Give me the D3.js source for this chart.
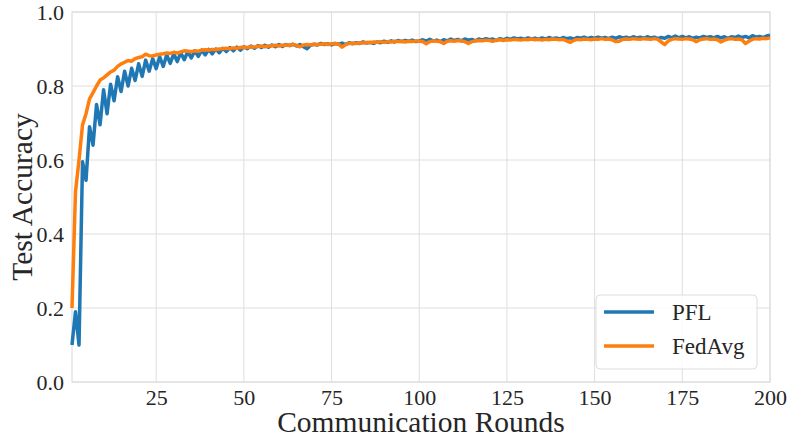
<!DOCTYPE html>
<html>
<head>
<meta charset="utf-8">
<script src="https://cdn.jsdelivr.net/npm/d3@7"></script>
<style>
  body { margin: 0; background: #fff; }
  text { font-family: "Liberation Serif", "Times New Roman", serif; fill: #262626; }
</style>
</head>
<body>
<div id="chart"></div>
<script>
// test accuracy per communication round (rounds 1..200)
const pfl = [
  0.10, 0.19, 0.10, 0.595, 0.545, 0.69, 0.64, 0.75, 0.695, 0.79,
  0.725, 0.805, 0.76, 0.825, 0.785, 0.84, 0.80, 0.848, 0.815, 0.86,
  0.826, 0.87, 0.84, 0.874, 0.847, 0.879, 0.853, 0.884, 0.861, 0.887,
  0.866, 0.89, 0.871, 0.893, 0.876, 0.895, 0.88, 0.897, 0.884, 0.899,
  0.887, 0.90, 0.89, 0.902, 0.893, 0.904, 0.895, 0.905, 0.897, 0.906,
  0.901, 0.908, 0.902, 0.909, 0.904, 0.91, 0.905, 0.911, 0.906, 0.912,
  0.907, 0.912, 0.909, 0.913, 0.908, 0.912, 0.906, 0.901, 0.91, 0.913,
  0.911, 0.915, 0.912, 0.914, 0.911, 0.915, 0.913, 0.916, 0.912, 0.917,
  0.914, 0.917, 0.915, 0.919, 0.916, 0.918, 0.915, 0.919, 0.917, 0.921,
  0.918, 0.922, 0.919, 0.923, 0.92, 0.923, 0.921, 0.924, 0.92, 0.922,
  0.925, 0.921, 0.926, 0.922, 0.924, 0.92, 0.925, 0.922, 0.927, 0.923,
  0.926, 0.922, 0.927, 0.924, 0.926, 0.922, 0.927, 0.924, 0.928, 0.925,
  0.927, 0.923, 0.928, 0.925, 0.929, 0.926, 0.93, 0.927, 0.929, 0.926,
  0.93, 0.927, 0.929, 0.926, 0.93, 0.927, 0.931, 0.928, 0.93, 0.927,
  0.931, 0.928, 0.93, 0.927, 0.931, 0.929, 0.932, 0.928, 0.931, 0.929,
  0.932, 0.929, 0.931, 0.928, 0.932, 0.929, 0.933, 0.93, 0.932, 0.929,
  0.933, 0.93, 0.932, 0.929, 0.933, 0.93, 0.932, 0.928, 0.931, 0.929,
  0.934, 0.93, 0.935, 0.93, 0.934, 0.93, 0.933, 0.929, 0.932, 0.93,
  0.934, 0.931, 0.933, 0.93, 0.934, 0.93, 0.933, 0.929, 0.933, 0.931,
  0.935, 0.931, 0.934, 0.93, 0.936, 0.932, 0.934, 0.931, 0.935, 0.937
];

const fedavg = [
  0.20, 0.515, 0.60, 0.695, 0.725, 0.765, 0.782, 0.80, 0.816, 0.822,
  0.83, 0.838, 0.843, 0.853, 0.86, 0.864, 0.869, 0.867, 0.874, 0.877,
  0.879, 0.886, 0.882, 0.881, 0.884, 0.886, 0.887, 0.889, 0.888, 0.891,
  0.889, 0.892, 0.895, 0.894, 0.893, 0.895, 0.894, 0.897, 0.898, 0.897,
  0.899, 0.898, 0.90, 0.901, 0.902, 0.901, 0.903, 0.902, 0.904, 0.905,
  0.904, 0.906, 0.905, 0.907, 0.908, 0.906, 0.908, 0.909, 0.91, 0.908,
  0.91, 0.911, 0.91, 0.912, 0.91, 0.906, 0.911, 0.912, 0.911, 0.913,
  0.912, 0.913, 0.914, 0.912, 0.914, 0.915, 0.913, 0.905, 0.912, 0.915,
  0.916, 0.915, 0.917, 0.916, 0.918, 0.917, 0.919, 0.918, 0.92, 0.918,
  0.92, 0.919, 0.921, 0.92, 0.921, 0.919, 0.921, 0.92, 0.922, 0.921,
  0.92, 0.914, 0.92, 0.922, 0.921, 0.92, 0.915, 0.921, 0.922, 0.921,
  0.923, 0.922, 0.92, 0.915, 0.92, 0.922, 0.923, 0.922, 0.924, 0.923,
  0.921, 0.924, 0.925, 0.923, 0.925, 0.924, 0.926, 0.925, 0.924, 0.926,
  0.925, 0.927, 0.925, 0.926, 0.924, 0.926, 0.925, 0.927, 0.926, 0.925,
  0.926, 0.922, 0.918, 0.923, 0.926, 0.925, 0.927, 0.926, 0.925, 0.927,
  0.926, 0.928, 0.926, 0.927, 0.925, 0.92, 0.921, 0.926, 0.927, 0.926,
  0.928, 0.927, 0.926, 0.928, 0.927, 0.926, 0.928, 0.926, 0.919, 0.912,
  0.922, 0.926, 0.928, 0.927, 0.926, 0.928, 0.927, 0.925, 0.92, 0.925,
  0.927, 0.928, 0.926, 0.927, 0.925, 0.919, 0.924, 0.927, 0.928, 0.926,
  0.927, 0.925, 0.915, 0.921, 0.926, 0.928, 0.927, 0.929, 0.928, 0.93
];

const seriesNames = ["PFL", "FedAvg"];
const seriesColors = ["#1f77b4", "#ff7f0e"];
const xTicks = [25, 50, 75, 100, 125, 150, 175, 200];
const yTicks = [0, 0.2, 0.4, 0.6, 0.8, 1.0];

const svgWidth = 788;
const svgHeight = 438;
const margin = { top: 12, right: 18, bottom: 56, left: 72 };
const width = svgWidth - margin.left - margin.right;
const height = svgHeight - margin.top - margin.bottom;

const svg = d3.select("#chart")
  .append("svg")
  .attr("width", svgWidth)
  .attr("height", svgHeight);

const chartGroup = svg.append("g")
  .attr("transform", `translate(${margin.left}, ${margin.top})`);

const xScale = d3.scaleLinear().domain([1, 200]).range([0, width]);
const yScale = d3.scaleLinear().domain([0, 1]).range([height, 0]);

// grid
chartGroup.selectAll(".vgrid")
  .data(xTicks)
  .enter()
  .append("line")
  .attr("x1", d => xScale(d)).attr("x2", d => xScale(d))
  .attr("y1", 0).attr("y2", height)
  .attr("stroke", "#dedede").attr("stroke-width", 1);

chartGroup.selectAll(".hgrid")
  .data(yTicks)
  .enter()
  .append("line")
  .attr("x1", 0).attr("x2", width)
  .attr("y1", d => yScale(d)).attr("y2", d => yScale(d))
  .attr("stroke", "#dedede").attr("stroke-width", 1);

// frame
chartGroup.append("rect")
  .attr("width", width).attr("height", height)
  .attr("fill", "none").attr("stroke", "#dedede").attr("stroke-width", 1.2);

// axes
const bottomAxis = d3.axisBottom(xScale).tickValues(xTicks).tickSize(0).tickPadding(7);
const leftAxis = d3.axisLeft(yScale).tickValues(yTicks).tickSize(0).tickPadding(8)
  .tickFormat(d3.format(".1f"));

const xAxisG = chartGroup.append("g")
  .attr("transform", `translate(0, ${height})`)
  .call(bottomAxis);
const yAxisG = chartGroup.append("g").call(leftAxis);

[xAxisG, yAxisG].forEach(g => {
  g.select(".domain").remove();
  g.selectAll("text")
    .style("font-family", "'Liberation Serif', 'Times New Roman', serif")
    .style("font-size", "22px")
    .attr("fill", "#262626");
});

// lines
chartGroup.append("clipPath").attr("id", "clip")
  .append("rect").attr("x", -2).attr("width", width + 4).attr("height", height);

const line = d3.line()
  .x((d, i) => xScale(i + 1))
  .y(d => yScale(d));

[pfl, fedavg].forEach((values, k) => {
  chartGroup.append("path")
    .datum(values)
    .attr("clip-path", "url(#clip)")
    .attr("fill", "none")
    .attr("stroke", seriesColors[k])
    .attr("stroke-width", 3.5)
    .attr("stroke-linejoin", "round")
    .attr("d", line);
});

// axis labels
chartGroup.append("text")
  .attr("transform", "rotate(-90)")
  .attr("x", -height / 2)
  .attr("y", -margin.left + 22)
  .attr("dy", "0.35em")
  .style("font-size", "29.5px")
  .style("text-anchor", "middle")
  .text("Test Accuracy");

chartGroup.append("text")
  .attr("x", width / 2)
  .attr("y", height + 50)
  .style("font-size", "29.5px")
  .style("text-anchor", "middle")
  .text("Communication Rounds");

// legend
const legend = chartGroup.append("g")
  .attr("transform", `translate(${width - 174}, ${height - 87})`);

legend.append("rect")
  .attr("width", 161).attr("height", 74)
  .attr("rx", 4)
  .attr("fill", "#fff").attr("fill-opacity", 0.85)
  .attr("stroke", "#dcdcdc");

seriesNames.forEach((name, k) => {
  const row = legend.append("g").attr("transform", `translate(8, ${17 + k * 34})`);
  row.append("line")
    .attr("x1", 0).attr("x2", 50)
    .attr("stroke", seriesColors[k]).attr("stroke-width", 3.5);
  row.append("text")
    .attr("x", 68).attr("dy", "0.35em")
    .style("font-size", "23px")
    .text(name);
});
</script>
</body>
</html>
